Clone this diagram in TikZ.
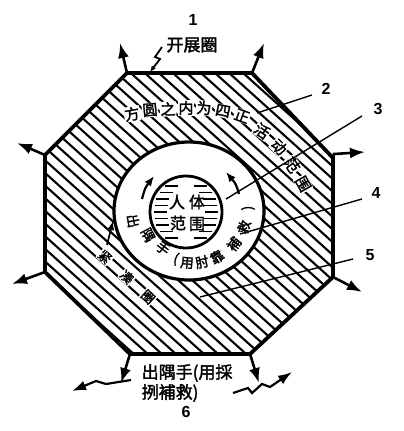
\documentclass[tikz,border=0pt]{standalone}
\usepackage{fontspec}
\newfontfamily\cjk{Noto Sans CJK SC}[AutoFakeBold=2]
\newfontfamily\numfont{Liberation Sans}
\usetikzlibrary{arrows.meta,calc}
\begin{document}
\begin{tikzpicture}[x=1pt,y=-1pt,
  hatch/.style={line width=2.1pt},
  border/.style={line width=3.8pt,line join=miter},
  outarrow/.style={line width=2.6pt,-{Latex[length=15pt,width=11pt]}},
  leader/.style={line width=1.4pt},
  num/.style={font=\numfont\bfseries\fontsize{16}{16}\selectfont,inner sep=1pt},
  big/.style={font=\cjk\bfseries\fontsize{17}{17}\selectfont,inner sep=0.5pt},
  upch/.style={font=\cjk\bfseries\fontsize{15}{15}\selectfont,inner sep=0.6pt,fill=white},
  ringch/.style={font=\cjk\bfseries\fontsize{13.5}{13.5}\selectfont,inner sep=0pt},
  jinch/.style={font=\cjk\bfseries\fontsize{13}{13}\selectfont,inner sep=0.6pt,fill=white},
  inch/.style={font=\cjk\bfseries\fontsize{16}{16}\selectfont,inner sep=0.5pt}]
\useasboundingbox (0,0) rectangle (404,431);
% octagon
\coordinate (A) at (127,73);
\coordinate (B) at (252,73);
\coordinate (C) at (333,158);
\coordinate (D) at (333,277);
\coordinate (E) at (250,354);
\coordinate (F) at (130,354);
\coordinate (G) at (45,272);
\coordinate (H) at (45,155);
\begin{scope}
  \clip (A)--(B)--(C)--(D)--(E)--(F)--(G)--(H)--cycle;
  \begin{scope}[shift={(189,214)},rotate=-42]
    \foreach \k in {-24,...,24} \draw[hatch] (-260,\k*9.4) -- (260,\k*9.4);
  \end{scope}
\end{scope}
% outer ring
\fill[white] (189,211) ellipse [x radius=75pt,y radius=69pt];
\draw[line width=3.2pt] (189,211) ellipse [x radius=75pt,y radius=69pt];
\draw[border] (A)--(B)--(C)--(D)--(E)--(F)--(G)--(H)--cycle;
% inner circle
\draw[line width=2.8pt] (186,212) circle [radius=36pt];
\foreach \yy in {186,192.5,...,240} {
  \pgfmathsetmacro\w{sqrt(36*36-(\yy-212)*(\yy-212))}
  \pgfmathsetmacro\ll{min(13,\w-4)}
  \draw[line width=1.1pt] ({186-\w+4},\yy) -- ({186-\w+4+\ll},\yy);
  \draw[line width=1.1pt] ({186+\w-4},\yy) -- ({186+\w-4-\ll},\yy);
}
% ring arrows
\draw[line width=2.2pt,-{Latex[length=10pt,width=8pt]}] (142,199) .. controls (145,188) .. (154,176);
\draw[line width=2.2pt,-{Latex[length=10pt,width=8pt]}] (239,194) .. controls (236,184) .. (226,172);
% vertex arrows
\coordinate (tA) at (120,43);
\coordinate (tB) at (264,43);
\coordinate (tC) at (365,152);
\coordinate (tD) at (362,292);
\coordinate (tE) at (259,383);
\coordinate (tF) at (121,383);
\coordinate (tG) at (12,284);
\coordinate (tH) at (17,143);
\draw[outarrow] (A) -- (tA);
\draw[outarrow] (B) -- (tB);
\draw[outarrow] (C) -- (334,154) -- (tC);
\draw[outarrow] (D) -- (tD);
\draw[outarrow] (E) -- (tE);
\draw[outarrow] (F) -- (tF);
\draw[outarrow] (G) -- (tG);
\draw[outarrow] (H) -- (tH);
% zigzags
\draw[line width=2.2pt,-{Latex[length=14pt,width=10pt]}] (131,380) -- (106,384) -- (96,381) -- (72,391);
\draw[line width=2.2pt,-{Latex[length=14pt,width=10pt]}] (233,393) -- (248,388) -- (252,393) -- (262,384) -- (270,387) -- (292,372);
% labels
\node[num] (n1) at (193,20) {1};
\node[big] (l1) at (192,45) {开展圈};
\draw[line width=1.8pt,-{Latex[length=6pt,width=5pt]}] (162,47) -- (155,57) -- (160,59) -- (150,72);
\node[num] (n2) at (326,89) {2};
\node[num] (n3) at (378,109) {3};
\node[num] (n4) at (376,193) {4};
\node[num] (n5) at (370,255) {5};
\node[num] (n6) at (186,412) {6};
% upper text
\node[upch,rotate=10] (u1) at (132,114) {方};
\node[upch,rotate=5] (u2) at (150,110) {圆};
\node[upch,rotate=2] (u3) at (168,109) {之};
\node[upch,rotate=0] (u4) at (186,108) {内};
\node[upch,rotate=-5] (u5) at (204,108) {为};
\node[upch,rotate=-12] (u6) at (223,111) {四};
\node[upch,rotate=-20] (u7) at (242,116) {正};
\node[upch,rotate=-35] (u8) at (262,131) {活};
\node[upch,rotate=-45] (u9) at (279,147) {动};
\node[upch,rotate=-55] (u10) at (292,165) {范};
\node[upch,rotate=-60] (u11) at (303,184) {围};
% inner text
\node[inch] (i1) at (177,202) {人};
\node[inch] (i2) at (197,202) {体};
\node[inch] (i3) at (178,223) {范};
\node[inch] (i4) at (197,224) {围};
% ring text
\node[ringch,rotate=-80] (r1) at (133,221) {出};
\node[ringch,rotate=-62] (r2) at (148,235) {隅};
\node[ringch,rotate=-37] (r3) at (163,248) {手};
\node[ringch,rotate=-17] (r4) at (176,259) {(};
\node[ringch,rotate=-5] (r5) at (187,263) {用};
\node[ringch,rotate=12] (r6) at (202,262) {肘};
\node[ringch,rotate=32] (r7) at (217,257) {靠};
\node[ringch,rotate=52] (r8) at (234,244) {補};
\node[ringch,rotate=72] (r9) at (244,227) {救};
\node[ringch,rotate=91] (r10) at (248,208) {)};
% jin cou quan
\node[jinch,rotate=-43] (j1) at (105,257) {紧};
\node[jinch,rotate=-43] (j2) at (127,277) {凑};
\node[jinch,rotate=-43] (j3) at (148,297) {圈};
\coordinate (jt) at (113,221);
\draw[line width=1.8pt,-{Latex[length=9pt,width=7pt]}] (107,245) -- (jt);
% bottom text
\node[big,anchor=west] (b1) at (141,373) {出隅手(用採};
\node[big,anchor=west] (b2) at (141,393) {挒補救)};
% leaders
\coordinate (p2) at (257,113);
\coordinate (p3) at (226,199);
\coordinate (p4) at (240,234);
\coordinate (p5) at (200,297);
\draw[leader] (p2) -- (312,95);
\draw[leader] (p3) -- (362,116);
\draw[leader] (p4) -- (362,199);
\draw[leader] (p5) -- (353,259);
\end{tikzpicture}
\end{document}
